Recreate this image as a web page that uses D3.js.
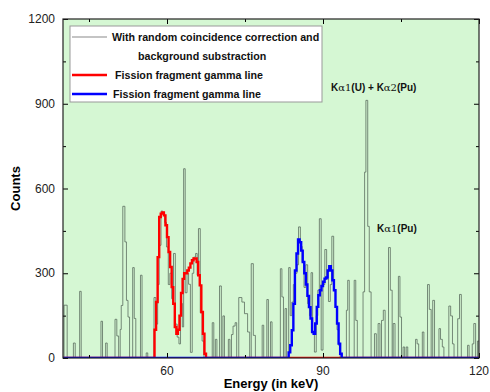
<!DOCTYPE html>
<html>
<head>
<meta charset="utf-8">
<script src="https://cdn.jsdelivr.net/npm/d3@7"></script>
<style>
  body { margin: 0; background: #fff; }
  text { font-family: "Liberation Sans", Arial, sans-serif; }
</style>
</head>
<body>
<div id="chart"></div>
<script>
// gray spectrum: [energy where step starts, counts]
const grayHist = [
  [40.0, 0], [40.2, 187], [40.8, 0], [42.0, 53], [42.35, 0], [43.2, 236], [43.5, 0],
  [47.3, 130], [47.6, 0], [48.2, 53], [48.5, 0], [50.0, 137], [50.35, 78], [50.7, 0],
  [51.0, 101], [51.2, 186], [51.5, 537], [51.9, 411], [52.2, 204], [52.5, 145], [52.8, 0],
  [53.4, 320], [53.7, 140], [54.0, 0], [54.9, 293], [55.2, 0], [56.0, 18], [56.3, 0],
  [57.5, 214], [57.85, 120], [58.2, 260], [58.5, 399], [58.85, 520], [59.2, 511], [59.55, 480],
  [59.9, 393], [60.25, 260], [60.55, 300], [60.9, 210], [61.25, 370], [61.6, 120], [61.95, 74],
  [62.3, 50], [62.6, 193], [62.95, 110], [63.2, 670], [63.5, 231], [63.85, 300], [64.15, 261],
  [64.5, 20], [64.85, 300], [65.15, 357], [65.5, 370], [65.8, 293], [66.05, 458], [66.4, 160],
  [66.75, 60], [67.1, 0], [68.7, 125], [69.0, 0], [69.3, 66], [69.6, 0], [70.1, 255], [70.45, 0],
  [70.75, 149], [71.05, 0], [71.8, 66], [72.1, 0], [72.4, 83], [72.7, 113], [73.1, 125], [73.4, 0],
  [73.8, 214], [74.4, 198], [74.9, 157], [75.5, 92], [75.9, 0], [76.2, 334], [76.6, 80], [77.0, 0],
  [78.3, 116], [78.6, 0], [79.2, 207], [79.5, 0], [79.9, 128], [80.2, 0], [81.8, 316], [82.1, 216],
  [82.4, 0], [82.7, 175], [83.0, 0], [83.4, 320], [83.7, 150], [84.0, 198], [84.3, 260], [84.65, 300],
  [85.0, 330], [85.3, 464], [85.65, 395], [86.0, 340], [86.35, 250], [86.7, 330], [87.05, 192],
  [87.4, 150], [87.7, 302], [88.0, 90], [88.35, 21], [88.7, 150], [89.0, 240], [89.3, 493],
  [89.65, 28], [90.0, 260], [90.35, 384], [90.7, 280], [91.05, 200], [91.4, 260], [91.7, 431],
  [92.05, 240], [92.4, 180], [92.7, 100], [93.0, 45], [93.3, 0], [94.5, 169], [94.75, 275], [95.05, 0],
  [96.0, 275], [96.3, 133], [96.6, 0], [97.7, 234], [98.0, 658], [98.25, 912], [98.6, 466],
  [98.9, 234], [99.25, 0], [99.9, 86], [100.25, 0], [100.6, 122], [100.95, 0], [101.25, 133],
  [101.6, 169], [101.95, 0], [102.6, 391], [102.95, 240], [103.3, 0], [103.5, 122], [103.85, 0],
  [104.5, 289], [104.8, 145], [105.1, 0], [105.4, 39], [105.7, 0], [106.0, 39], [106.3, 0],
  [107.8, 66], [108.1, 50], [108.4, 0], [109.1, 92], [109.4, 0], [110.1, 260], [110.45, 172],
  [110.8, 0], [111.1, 204], [111.45, 0], [112.3, 104], [112.6, 66], [112.95, 39], [113.25, 0],
  [114.2, 184], [114.55, 149], [114.9, 50], [115.2, 0], [115.9, 139], [116.25, 225], [116.6, 0],
  [117.8, 45], [118.1, 0], [118.7, 50], [119.0, 122], [119.35, 0], [119.7, 60], [120.0, 0]
];

// fission fragment gamma lines (bin width 0.3 keV)
const binWidth = 0.3;
const redStart = 57.3;
const redCounts = [0, 100, 198, 357, 499, 511, 515, 505, 470, 428, 375, 322, 251, 192, 110, 86,
  100, 150, 230, 280, 300, 300, 310, 320, 335, 346, 352, 352, 340, 293, 257, 163, 86, 15, 0];
const blueStart = 83.1;
const blueCounts = [0, 20, 45, 98, 192, 310, 370, 420, 410, 380, 340, 300, 260, 220, 180, 140,
  92, 86, 122, 181, 222, 240, 255, 270, 281, 285, 310, 325, 310, 275, 240, 181, 122, 51, 15, 0];

const xTicks = [45, 60, 75, 90, 105, 120];
const xLabels = [60, 90, 120];
const yTicks = [0, 150, 300, 450, 600, 750, 900, 1050, 1200];
const yLabels = [0, 300, 600, 900, 1200];

const legendItems = [
  {lines: ["With random coincidence correction and", "background substraction"], color: "#8a8a8a"},
  {lines: ["Fission fragment gamma line"], color: "#ff0000"},
  {lines: ["Fission fragment gamma line"], color: "#0000ff"}
];

const W = 490, H = 392;
const margin = {top: 19, right: 11, bottom: 34, left: 63};
const width = W - margin.left - margin.right,
  height = H - margin.top - margin.bottom;

const svg = d3.select("#chart").append("svg")
  .attr("width", W).attr("height", H);

const g = svg.append("g")
  .attr("transform", `translate(${margin.left},${margin.top})`);

const x = d3.scaleLinear().domain([40, 120]).range([0, width]);
const y = d3.scaleLinear().domain([0, 1200]).range([height, 0]);

g.append("rect").attr("width", width).attr("height", height).attr("fill", "#d5f7d3");

svg.append("clipPath").attr("id", "clip")
  .append("rect").attr("width", width).attr("height", height);

const plot = g.append("g").attr("clip-path", "url(#clip)");

const step = d3.line()
  .x(d => x(d[0])).y(d => y(d[1]))
  .curve(d3.curveStepAfter);

function binsToSteps(start, counts) {
  const pts = [[40, 0]];
  counts.forEach((c, i) => pts.push([start + i * binWidth, c]));
  pts.push([120, 0]);
  return pts;
}

plot.append("path").datum(grayHist)
  .attr("d", step).attr("fill", "none")
  .attr("stroke", "#56665a").attr("stroke-width", 0.9).attr("stroke-opacity", 0.85);

plot.append("path").datum(binsToSteps(redStart, redCounts))
  .attr("d", step).attr("fill", "none")
  .attr("stroke", "#ff0000").attr("stroke-width", 2.4);

plot.append("path").datum(binsToSteps(blueStart, blueCounts))
  .attr("d", step).attr("fill", "none")
  .attr("stroke", "#0000ff").attr("stroke-width", 2.4);

// ticks on all four sides, pointing inward
const tickLen = v => (xLabels.includes(v) ? 5 : 3);
const yTickLen = v => (yLabels.includes(v) ? 5 : 3);

g.append("g").attr("transform", `translate(0,${height})`)
  .call(d3.axisBottom(x).tickValues(xTicks).tickSize(0).tickFormat(""))
  .call(a => a.select(".domain").remove())
  .call(a => a.selectAll(".tick line").attr("y2", d => -tickLen(d)).attr("stroke", "#000"));
g.append("g")
  .call(d3.axisTop(x).tickValues(xTicks).tickSize(0).tickFormat(""))
  .call(a => a.select(".domain").remove())
  .call(a => a.selectAll(".tick line").attr("y2", d => tickLen(d)).attr("stroke", "#000"));
g.append("g")
  .call(d3.axisLeft(y).tickValues(yTicks).tickSize(0).tickFormat(""))
  .call(a => a.select(".domain").remove())
  .call(a => a.selectAll(".tick line").attr("x2", d => yTickLen(d)).attr("stroke", "#000"));
g.append("g").attr("transform", `translate(${width},0)`)
  .call(d3.axisRight(y).tickValues(yTicks).tickSize(0).tickFormat(""))
  .call(a => a.select(".domain").remove())
  .call(a => a.selectAll(".tick line").attr("x2", d => -yTickLen(d)).attr("stroke", "#000"));

// tick labels
g.selectAll(".xl").data(xLabels).join("text")
  .attr("x", d => x(d)).attr("y", height + 17)
  .attr("text-anchor", "middle").attr("font-size", 12).attr("fill", "#222")
  .text(d => d);
g.selectAll(".yl").data(yLabels).join("text")
  .attr("x", -8).attr("y", d => y(d) + 4)
  .attr("text-anchor", "end").attr("font-size", 12).attr("fill", "#222")
  .text(d => d);

// frame
g.append("rect").attr("width", width).attr("height", height)
  .attr("fill", "none").attr("stroke", "#222").attr("stroke-width", 1.2);

// axis titles
svg.append("text")
  .attr("x", margin.left + width / 2).attr("y", 388)
  .attr("text-anchor", "middle").attr("font-size", 13).attr("font-weight", "bold")
  .text("Energy (in keV)");
svg.append("text")
  .attr("transform", `translate(20,${margin.top + height / 2}) rotate(-90)`)
  .attr("text-anchor", "middle").attr("font-size", 13).attr("font-weight", "bold")
  .text("Counts");

// legend
const lg = svg.append("g").attr("transform", "translate(70,26)");
lg.append("rect").attr("width", 252).attr("height", 76)
  .attr("fill", "#fff").attr("stroke", "#999").attr("stroke-width", 1);
const rowY = [11, 30, 49, 68];
const textX = [42, 68, 45, 43];
let row = 0;
legendItems.forEach(item => {
  lg.append("line").attr("x1", 2).attr("x2", 37)
    .attr("y1", rowY[row]).attr("y2", rowY[row])
    .attr("stroke", item.color).attr("stroke-width", item.color === "#8a8a8a" ? 1.2 : 2.4);
  item.lines.forEach(t => {
    lg.append("text").attr("x", textX[row]).attr("y", rowY[row] + 3.8)
      .attr("font-size", 10.7).attr("font-weight", "bold").attr("fill", "#111")
      .text(t);
    row++;
  });
});

// peak annotations
const ann1 = svg.append("text").attr("x", 331).attr("y", 91)
  .attr("font-size", 10).attr("font-weight", "bold").attr("fill", "#111");
ann1.append("tspan").text("K");
ann1.append("tspan").attr("font-family", "DejaVu Serif, serif").attr("font-weight", "normal").text("α1");
ann1.append("tspan").text("(U) + K");
ann1.append("tspan").attr("font-family", "DejaVu Serif, serif").attr("font-weight", "normal").text("α2");
ann1.append("tspan").text("(Pu)");

const ann2 = svg.append("text").attr("x", 377).attr("y", 232)
  .attr("font-size", 10).attr("font-weight", "bold").attr("fill", "#111");
ann2.append("tspan").text("K");
ann2.append("tspan").attr("font-family", "DejaVu Serif, serif").attr("font-weight", "normal").text("α1");
ann2.append("tspan").text("(Pu)");
</script>
</body>
</html>
